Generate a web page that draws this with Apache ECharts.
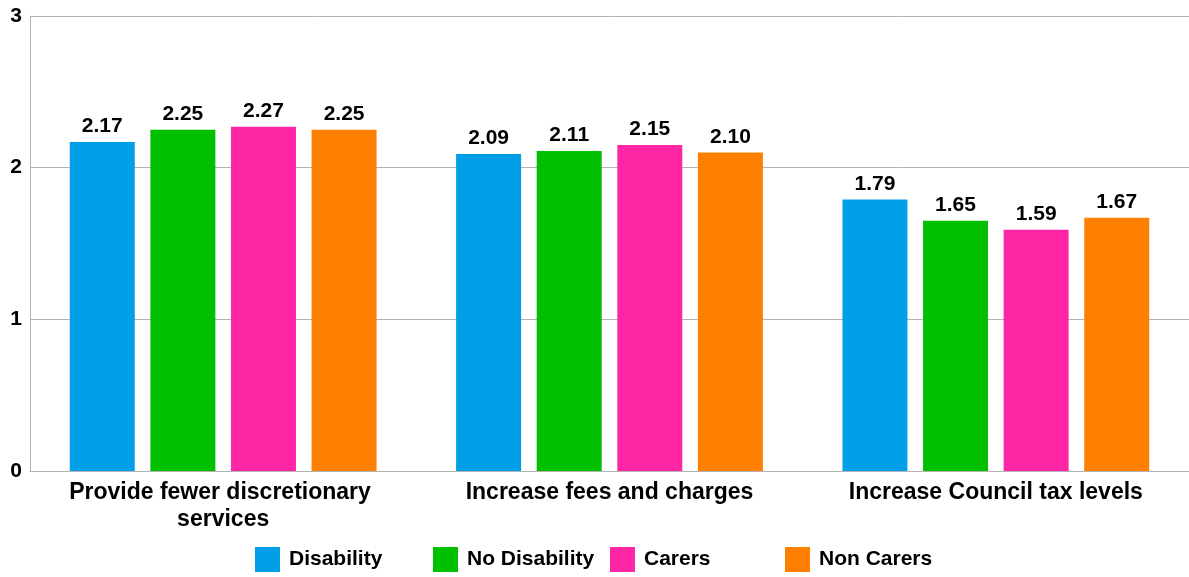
<!DOCTYPE html>
<html>
<head>
<meta charset="utf-8">
<script src="https://cdn.jsdelivr.net/npm/echarts@6/dist/echarts.min.js"></script>
<style>html,body{margin:0;padding:0;background:#fff;}#c{width:1189px;height:577px;}</style>
</head>
<body>
<div id="c"></div>
<script>
const categories = ['Provide fewer discretionary services', 'Increase fees and charges', 'Increase Council tax levels'];
const seriesNames = ['Disability', 'No Disability', 'Carers', 'Non Carers'];
const disability = [2.17, 2.09, 1.79];
const noDisability = [2.25, 2.11, 1.65];
const carers = [2.27, 2.15, 1.59];
const nonCarers = [2.25, 2.10, 1.67];
const yTicks = [0, 1, 2, 3];

const colors = ['#029fe9', '#00c000', '#ff26a6', '#ff8000'];
const values = [disability, noDisability, carers, nonCarers];
const FONT = '"Liberation Sans", Arial, sans-serif';
const legendLefts = [250, 428, 605, 780];

const chart = echarts.init(document.getElementById('c'), null, {renderer: 'canvas'});
chart.setOption({
  animation: false,
  backgroundColor: '#ffffff',
  textStyle: {fontFamily: FONT},
  grid: {left: 30, right: 0, top: 16, bottom: 106, containLabel: false},
  legend: seriesNames.map((n, i) => ({
    data: [n],
    left: legendLefts[i],
    top: 542,
    itemWidth: 25,
    itemHeight: 25,
    itemGap: 0,
    icon: 'rect',
    textStyle: {fontFamily: FONT, fontSize: 21, fontWeight: 'bold', color: '#000', padding: [0, 0, 0, 4]},
    selectedMode: false
  })),
  xAxis: {
    type: 'category',
    data: categories,
    axisLine: {show: true, lineStyle: {color: '#b3b3b3', width: 1}},
    axisTick: {show: false},
    axisLabel: {
      interval: 0,
      margin: 8,
      fontFamily: FONT,
      fontSize: 23,
      fontWeight: 'bold',
      color: '#000',
      width: 360,
      overflow: 'break',
      lineHeight: 27
    }
  },
  yAxis: {
    type: 'value',
    min: 0,
    max: 3,
    interval: 1,
    axisLine: {show: true, lineStyle: {color: '#b3b3b3', width: 1}},
    axisTick: {show: false},
    splitLine: {show: true, lineStyle: {color: '#b3b3b3', width: 1}},
    axisLabel: {
      margin: 8,
      fontFamily: FONT,
      fontSize: 21,
      fontWeight: 'bold',
      color: '#000',
      formatter: v => yTicks.includes(v) ? String(v) : ''
    }
  },
  series: seriesNames.map((n, i) => ({
    name: n,
    type: 'bar',
    data: values[i],
    barWidth: 65,
    barGap: '24%',
    itemStyle: {color: colors[i]},
    label: {
      show: true,
      position: 'top',
      distance: 5,
      fontFamily: FONT,
      fontSize: 21,
      fontWeight: 'bold',
      color: '#000',
      formatter: p => p.value.toFixed(2)
    }
  }))
});
</script>
</body>
</html>
